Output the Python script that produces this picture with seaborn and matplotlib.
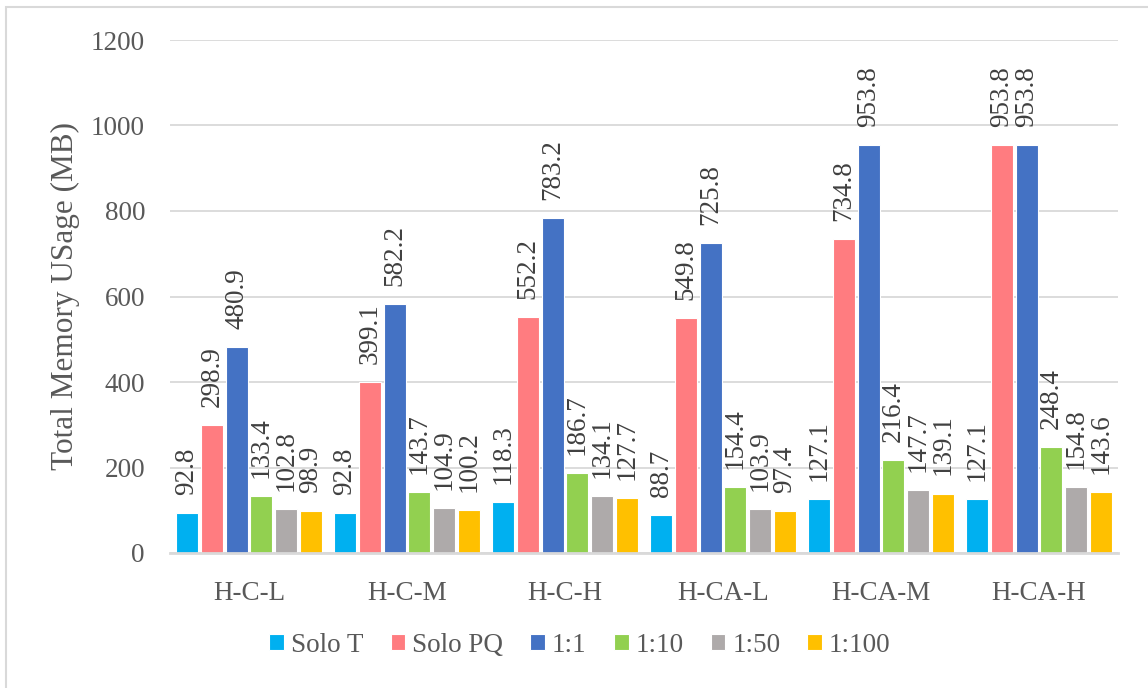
import numpy as np
import pandas as pd
import matplotlib
matplotlib.use("Agg")
import matplotlib.pyplot as plt
from matplotlib.patches import Rectangle
import seaborn as sns

categories = ["H-C-L", "H-C-M", "H-C-H", "H-CA-L", "H-CA-M", "H-CA-H"]
series_names = ["Solo T", "Solo PQ", "1:1", "1:10", "1:50", "1:100"]

solo_t = [92.8, 92.8, 118.3, 88.7, 127.1, 127.1]
solo_pq = [298.9, 399.1, 552.2, 549.8, 734.8, 953.8]
ratio_1_1 = [480.9, 582.2, 783.2, 725.8, 953.8, 953.8]
ratio_1_10 = [133.4, 143.7, 186.7, 154.4, 216.4, 248.4]
ratio_1_50 = [102.8, 104.9, 134.1, 103.9, 147.7, 154.8]
ratio_1_100 = [98.9, 100.2, 127.7, 97.4, 139.1, 143.6]

y_ticks = [0, 200, 400, 600, 800, 1000, 1200]

colors = ["#00B0F0", "#FF7C80", "#4472C4", "#92D050", "#AEAAAA", "#FFC000"]

values = [solo_t, solo_pq, ratio_1_1, ratio_1_10, ratio_1_50, ratio_1_100]
rows = []
for name, vals in zip(series_names, values):
    for cat, v in zip(categories, vals):
        rows.append({"Scenario": cat, "Series": name, "Memory": v})
df = pd.DataFrame(rows)

sns.set_theme(style="white")
plt.rcParams["font.family"] = ["Liberation Serif", "DejaVu Serif"]

fig = plt.figure(figsize=(11.48, 6.88), dpi=100)
ax = fig.add_axes([170 / 1148, 1 - 553 / 688, (1118 - 170) / 1148, (553 - 40) / 688])

sns.barplot(data=df, x="Scenario", y="Memory", hue="Series", order=categories,
            hue_order=series_names, palette=colors, width=0.94, gap=0.12,
            edgecolor="white", linewidth=0.8, saturation=1, ax=ax, legend=True, zorder=3)

for cont in ax.containers:
    ax.bar_label(cont, fmt="%.1f", rotation=90, padding=13, fontsize=19.5,
                 color="#404040")

ax.set_ylim(0, 1200)
ax.set_yticks(y_ticks)
ax.set_xlim(-0.5, len(categories) - 0.5)
ax.grid(axis="y", color="#D9D9D9", linewidth=1.3, zorder=0)
ax.set_axisbelow(True)
for side in ["left", "right", "top"]:
    ax.spines[side].set_visible(False)
ax.spines["bottom"].set_color("#D9D9D9")
ax.spines["bottom"].set_linewidth(2)
ax.spines["bottom"].set_zorder(4)
ax.tick_params(axis="both", length=0, labelsize=19.5, labelcolor="#595959")
ax.tick_params(axis="x", pad=20)
ax.tick_params(axis="y", pad=18)
ax.set_xlabel("")
ax.set_ylabel("Total Memory USage (MB)", fontsize=22.5, color="#595959", labelpad=8)

handles, labels = ax.get_legend_handles_labels()
ax.get_legend().remove()
fig.legend(handles, labels, loc="center", bbox_to_anchor=(580 / 1148, 1 - 645 / 688),
           ncol=6, frameon=False, fontsize=19.5, labelcolor="#595959",
           handlelength=0.55, handleheight=0.55, handletextpad=0.25, columnspacing=1.0)

fig.patches.append(Rectangle((6 / 1148, -0.1), 1.2, 1 - 7 / 688 + 0.1,
                             transform=fig.transFigure, fill=False,
                             edgecolor="#D9D9D9", linewidth=1.5))

fig.savefig("out.png", dpi=100, facecolor="white")
